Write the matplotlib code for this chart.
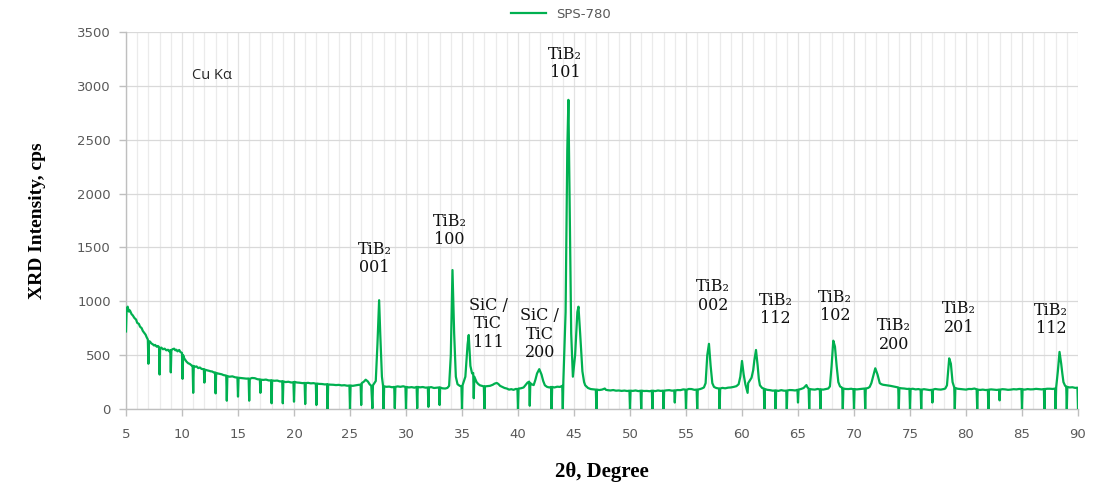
import matplotlib
matplotlib.use("Agg")
import matplotlib.pyplot as plt
from matplotlib.ticker import MultipleLocator

# ---------------- data ----------------
# (2-theta in degrees, intensity in cps) pairs, split by angular region
region_5_20 = [
    (5.0, 720), (5.05, 900), (5.1, 940), (5.15, 950), (5.25, 905), (5.35, 915), (5.5, 880), (5.6, 870),
    (5.75, 845), (5.9, 830), (6.0, 800), (6.15, 790), (6.25, 765), (6.4, 750), (6.5, 725), (6.65, 705),
    (6.75, 690), (6.85, 665), (6.95, 645), (7.0, 420), (7.05, 630), (7.15, 625), (7.25, 610), (7.4, 600),
    (7.5, 590), (7.6, 595), (7.75, 578), (7.85, 585), (7.95, 575), (8.0, 320), (8.05, 565), (8.15, 570),
    (8.3, 555), (8.45, 560), (8.6, 545), (8.75, 550), (8.85, 535), (8.95, 545), (9.0, 340), (9.05, 545),
    (9.15, 555), (9.3, 560), (9.4, 545), (9.5, 550), (9.6, 535), (9.75, 548), (9.85, 530), (10.0, 520),
    (10.05, 280), (10.1, 500), (10.2, 470), (10.3, 455), (10.4, 440), (10.55, 425), (10.7, 418), (10.85, 405),
    (10.95, 400), (11.0, 150), (11.05, 400), (11.15, 392), (11.3, 395), (11.45, 380), (11.6, 385), (11.75, 372),
    (11.95, 370), (12.0, 245), (12.05, 365), (12.2, 360), (12.4, 355), (12.55, 350), (12.7, 348), (12.85, 338),
    (12.95, 340), (13.0, 145), (13.05, 335), (13.2, 330), (13.4, 325), (13.55, 322), (13.7, 315), (13.85, 312),
    (13.95, 310), (14.0, 77), (14.05, 305), (14.25, 300), (14.5, 303), (14.75, 294), (14.95, 292), (15.0, 115),
    (15.05, 290), (15.25, 288), (15.5, 285), (15.75, 282), (15.95, 283), (16.0, 77), (16.05, 280), (16.25, 288),
    (16.5, 286), (16.75, 276), (16.95, 275), (17.0, 150), (17.05, 272), (17.25, 270), (17.5, 273), (17.75, 265),
    (17.95, 266), (18.0, 53), (18.05, 265), (18.25, 262), (18.5, 264), (18.75, 256), (18.95, 257), (19.0, 53),
    (19.05, 256), (19.25, 250), (19.5, 253), (19.75, 246), (19.95, 248),
]
region_20_40 = [
    (20.0, 68), (20.05, 252), (20.25, 246), (20.5, 244), (20.75, 240), (20.95, 242), (21.0, 46), (21.05, 240),
    (21.25, 243), (21.5, 238), (21.75, 240), (21.95, 235), (22.0, 37), (22.05, 236), (22.25, 233), (22.5, 232),
    (22.75, 228), (22.95, 230), (23.0, 0), (23.05, 228), (23.25, 226), (23.5, 225), (23.75, 222), (24.0, 224),
    (24.25, 219), (24.5, 221), (24.75, 216), (24.95, 218), (25.0, 0), (25.05, 218), (25.25, 215), (25.5, 220),
    (25.75, 224), (25.95, 226), (26.0, 37), (26.05, 240), (26.25, 255), (26.4, 272), (26.6, 255), (26.75, 230),
    (26.9, 215), (27.0, 6), (27.05, 220), (27.3, 260), (27.45, 600), (27.6, 1010), (27.7, 700), (27.85, 300),
    (27.95, 215), (28.0, 0), (28.05, 210), (28.25, 206), (28.5, 208), (28.75, 202), (28.95, 205), (29.0, 6),
    (29.05, 205), (29.25, 210), (29.5, 206), (29.75, 211), (29.95, 205), (30.0, 0), (30.05, 205), (30.25, 200),
    (30.5, 203), (30.75, 198), (30.95, 205), (31.0, 6), (31.05, 205), (31.25, 201), (31.5, 204), (31.75, 198),
    (31.95, 200), (32.0, 20), (32.05, 200), (32.25, 203), (32.5, 195), (32.75, 198), (32.95, 200), (33.0, 37),
    (33.05, 200), (33.25, 192), (33.5, 190), (33.7, 196), (33.85, 215), (34.0, 500), (34.15, 1290), (34.3, 700),
    (34.45, 300), (34.6, 230), (34.8, 215), (34.95, 210), (35.0, 0), (35.05, 220), (35.3, 300), (35.5, 600),
    (35.6, 687), (35.75, 400), (35.9, 330), (36.0, 334), (36.05, 100), (36.1, 300), (36.3, 250), (36.45, 232),
    (36.6, 220), (36.8, 214), (36.95, 210), (37.0, 0), (37.05, 210), (37.25, 212), (37.5, 215), (37.75, 225),
    (37.9, 235), (38.1, 242), (38.25, 232), (38.4, 215), (38.6, 205), (38.8, 195), (39.0, 190), (39.2, 180),
    (39.4, 184), (39.6, 178), (39.8, 186), (39.95, 185),
]
region_40_60 = [
    (40.0, 0), (40.05, 190), (40.25, 192), (40.5, 200), (40.7, 225), (40.85, 245), (41.0, 254), (41.05, 30),
    (41.1, 240), (41.25, 228), (41.4, 222), (41.55, 270), (41.7, 330), (41.9, 370), (42.1, 320), (42.25, 260),
    (42.4, 220), (42.6, 205), (42.8, 200), (42.95, 205), (43.0, 0), (43.05, 205), (43.25, 200), (43.5, 207),
    (43.75, 205), (43.95, 215), (44.0, 0), (44.05, 260), (44.25, 900), (44.4, 2400), (44.5, 2870), (44.6, 2000),
    (44.75, 700), (44.9, 300), (45.1, 500), (45.3, 900), (45.4, 950), (45.55, 700), (45.75, 350), (45.9, 250),
    (46.0, 220), (46.25, 195), (46.5, 185), (46.75, 182), (46.95, 180), (47.0, 0), (47.05, 180), (47.25, 176),
    (47.5, 180), (47.75, 190), (47.85, 178), (48.0, 175), (48.25, 172), (48.5, 176), (48.75, 170), (49.0, 172),
    (49.25, 168), (49.5, 171), (49.75, 167), (49.95, 170), (50.0, 0), (50.05, 170), (50.25, 168), (50.5, 172),
    (50.75, 166), (50.95, 170), (51.0, 0), (51.05, 170), (51.25, 167), (51.5, 168), (51.75, 165), (51.95, 170),
    (52.0, 0), (52.05, 170), (52.25, 166), (52.5, 172), (52.75, 168), (52.95, 170), (53.0, 0), (53.05, 170),
    (53.25, 173), (53.5, 175), (53.75, 170), (53.95, 172), (54.0, 60), (54.05, 172), (54.25, 176), (54.5, 175),
    (54.75, 182), (54.95, 180), (55.0, 0), (55.05, 178), (55.25, 186), (55.5, 185), (55.75, 178), (55.95, 180),
    (56.0, 0), (56.05, 180), (56.25, 185), (56.4, 190), (56.6, 200), (56.75, 240), (56.9, 500), (57.05, 605),
    (57.2, 400), (57.35, 240), (57.5, 205), (57.7, 195), (57.95, 190), (58.0, 0), (58.05, 190), (58.25, 196),
    (58.5, 192), (58.75, 198), (59.0, 200), (59.25, 205), (59.5, 212), (59.7, 230), (59.85, 300),
]
region_60_75 = [
    (60.0, 446), (60.15, 320), (60.3, 230), (60.5, 150), (60.55, 240), (60.7, 265), (60.85, 290), (61.0, 360),
    (61.1, 450), (61.25, 548), (61.4, 400), (61.5, 280), (61.6, 220), (61.8, 195), (61.95, 190), (62.0, 0),
    (62.05, 185), (62.25, 178), (62.5, 175), (62.75, 170), (62.95, 172), (63.0, 0), (63.05, 172), (63.25, 168),
    (63.5, 175), (63.75, 170), (63.95, 170), (64.0, 0), (64.05, 172), (64.25, 176), (64.5, 175), (64.75, 172),
    (64.95, 178), (65.0, 60), (65.05, 180), (65.25, 185), (65.5, 195), (65.75, 222), (65.85, 200), (65.95, 190),
    (66.0, 0), (66.05, 185), (66.25, 182), (66.5, 180), (66.75, 186), (66.95, 182), (67.0, 0), (67.05, 182),
    (67.25, 180), (67.5, 185), (67.7, 190), (67.85, 210), (68.0, 400), (68.15, 634), (68.3, 580), (68.45, 400),
    (68.6, 250), (68.75, 210), (68.9, 200), (68.95, 195), (69.0, 0), (69.05, 190), (69.25, 186), (69.5, 185),
    (69.75, 188), (69.95, 183), (70.0, 0), (70.05, 185), (70.25, 182), (70.5, 185), (70.75, 188), (70.95, 190),
    (71.0, 0), (71.05, 190), (71.25, 195), (71.4, 205), (71.55, 240), (71.7, 300), (71.9, 378), (72.1, 320),
    (72.3, 240), (72.45, 230), (72.6, 225), (72.8, 222), (73.0, 220), (73.25, 215), (73.5, 210), (73.75, 206),
    (73.95, 200), (74.0, 0), (74.05, 195), (74.25, 192), (74.5, 190), (74.75, 186), (74.95, 188),
]
region_75_90 = [
    (75.0, 0), (75.05, 185), (75.25, 188), (75.5, 182), (75.75, 185), (75.95, 180), (76.0, 0), (76.05, 180),
    (76.25, 184), (76.5, 180), (76.75, 176), (76.95, 178), (77.0, 60), (77.05, 180), (77.25, 186), (77.5, 182),
    (77.75, 180), (78.0, 185), (78.15, 190), (78.3, 220), (78.5, 470), (78.65, 420), (78.8, 250), (78.95, 200),
    (79.0, 0), (79.05, 195), (79.25, 188), (79.5, 185), (79.75, 182), (80.0, 180), (80.25, 186), (80.5, 185),
    (80.75, 190), (80.95, 183), (81.0, 0), (81.05, 180), (81.25, 177), (81.5, 180), (81.75, 176), (81.95, 178),
    (82.0, 0), (82.05, 180), (82.25, 182), (82.5, 180), (82.75, 177), (82.95, 180), (83.0, 80), (83.05, 180),
    (83.25, 184), (83.5, 182), (83.75, 178), (84.0, 180), (84.25, 184), (84.5, 182), (84.75, 186), (84.95, 185),
    (85.0, 0), (85.05, 182), (85.25, 180), (85.5, 185), (85.75, 182), (86.0, 183), (86.25, 187), (86.5, 185),
    (86.75, 182), (86.95, 185), (87.0, 0), (87.05, 185), (87.25, 188), (87.5, 188), (87.75, 186), (87.95, 190),
    (88.0, 0), (88.05, 200), (88.2, 350), (88.35, 530), (88.5, 420), (88.6, 330), (88.7, 250), (88.85, 215),
    (88.95, 210), (89.0, 0), (89.05, 205), (89.25, 200), (89.5, 202), (89.75, 196), (89.95, 198), (90.0, 0),
]

series_name = "SPS-780"

label_texts = ["TiB\u2082\n001", "TiB\u2082\n100", "SiC /\nTiC\n111", "SiC /\nTiC\n200",
               "TiB\u2082\n101", "TiB\u2082\n002", "TiB\u2082\n112", "TiB\u2082\n102",
               "TiB\u2082\n200", "TiB\u2082\n201", "TiB\u2082\n112"]
label_x = [27.2, 33.9, 37.35, 41.95, 44.2, 57.4, 63.0, 68.3, 73.6, 79.4, 87.6]
label_y = [1400, 1655, 790, 695, 3205, 1050, 925, 950, 688, 845, 830]

x_ticks = list(range(5, 91, 5))
y_ticks = list(range(0, 3501, 500))

points = region_5_20 + region_20_40 + region_40_60 + region_60_75 + region_75_90
two_theta = [p[0] for p in points]
intensity = [p[1] for p in points]

# ---------------- figure ----------------
fig = plt.figure(figsize=(10.96, 4.86), dpi=100)
ax = fig.add_axes([126 / 1096, 1 - 409 / 486, (1078 - 126) / 1096, (409 - 32) / 486])

green = "#00B050"
ax.plot(two_theta, intensity, color=green, lw=1.6, label=series_name, zorder=3)

ax.set_xlim(5, 90)
ax.set_ylim(0, 3500)
ax.set_xticks(x_ticks)
ax.set_yticks(y_ticks)
ax.xaxis.set_minor_locator(MultipleLocator(1))

ax.grid(which="major", axis="y", color="#d9d9d9", lw=0.9)
ax.grid(which="major", axis="x", color="#e3e3e3", lw=0.9)
ax.grid(which="minor", axis="x", color="#ebebeb", lw=0.9)
ax.set_axisbelow(True)

for s in ["top", "right"]:
    ax.spines[s].set_visible(False)
for s in ["left", "bottom"]:
    ax.spines[s].set_color("#bfbfbf")
    ax.spines[s].set_linewidth(1.0)

ax.tick_params(axis="both", which="major", colors="#bfbfbf", length=5, width=1.0,
               labelcolor="#595959", labelsize=9.5)
ax.tick_params(axis="x", which="minor", length=0)
ax.tick_params(axis="x", pad=9)
ax.tick_params(axis="y", pad=6)
for lab in ax.get_xticklabels() + ax.get_yticklabels():
    lab.set_fontfamily("DejaVu Sans")

fig.text(602 / 1096, 1 - 472 / 486, "2\u03b8, Degree", family=["Liberation Serif", "DejaVu Serif"],
         fontweight="bold", fontsize=15, ha="center", va="center")
ax.set_ylabel("XRD Intensity, cps", family=["Liberation Serif", "DejaVu Serif"], fontweight="bold",
              fontsize=14, labelpad=22)

for t, x, y in zip(label_texts, label_x, label_y):
    ax.text(x, y, t, ha="center", va="center", fontsize=11.5, linespacing=1.1,
            family=["DejaVu Serif"], color="#111111", zorder=4)

ax.text(12.7, 3100, "Cu K\u03b1", ha="center", va="center", fontsize=10.5,
        family=["Open Sans", "DejaVu Sans"], color="#262626")

leg = ax.legend(loc="lower center", bbox_to_anchor=(0.457, 1.015), frameon=False,
                handlelength=2.6, borderaxespad=0.0,
                prop={"family": "DejaVu Sans", "size": 9.5})
for txt in leg.get_texts():
    txt.set_color("#595959")

fig.savefig("out.png", dpi=100)
